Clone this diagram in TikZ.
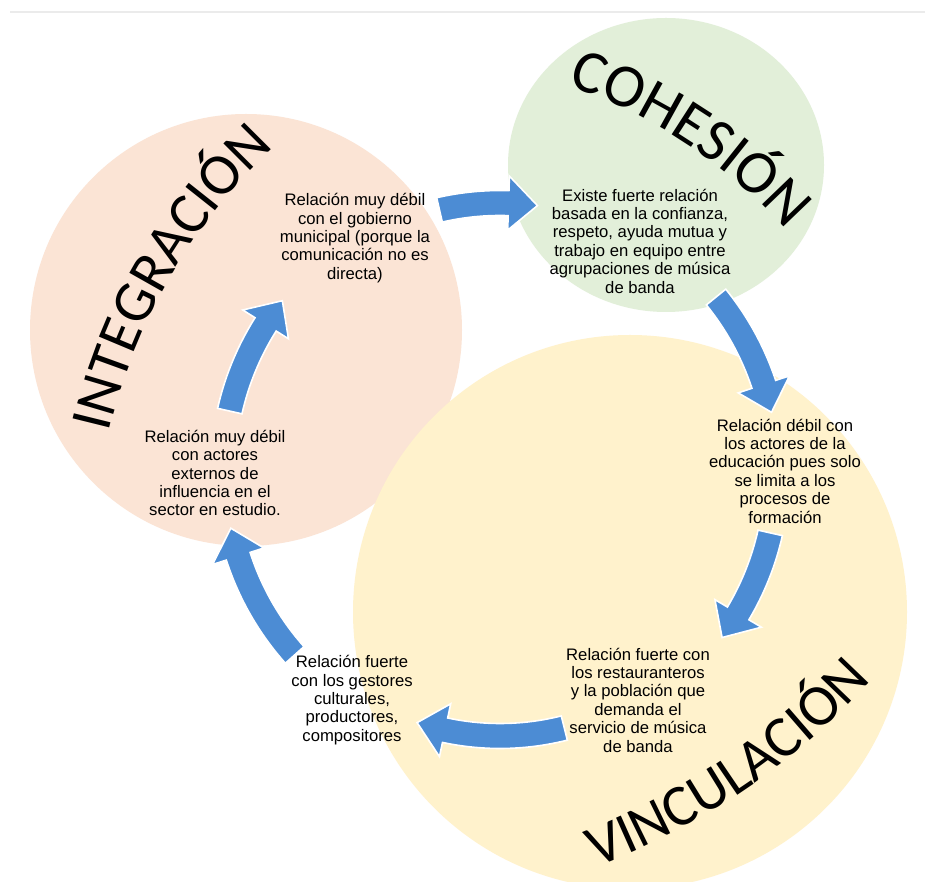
\documentclass[tikz,border=0pt]{standalone}
\usepackage{fontspec}
\setmainfont{Liberation Sans}
\newfontfamily\titlefam{Carlito}
\usetikzlibrary{calc,decorations.text}
\definecolor{pinkfill}{RGB}{251,228,213}
\definecolor{greenfill}{RGB}{226,239,217}
\definecolor{yellowfill}{RGB}{255,242,204}
\definecolor{arrowblue}{RGB}{76,140,212}
\newcommand{\titlefont}{\titlefam\fontsize{44}{44}\selectfont}
\newcommand{\titlefontb}{\titlefam\fontsize{46}{46}\selectfont}
\newcommand{\cyclearrow}[3]{%
  \pgfmathsetmacro{\ab}{#3+29/#1*57.2958}%
  \pgfmathsetmacro{\ro}{#1+12.5}\pgfmathsetmacro{\ri}{#1-12.5}%
  \pgfmathsetmacro{\ho}{#1+27}\pgfmathsetmacro{\hi}{#1-27}%
  \fill[arrowfill] ($(rc)+(#2:\ro)$) arc[start angle=#2, end angle=\ab, radius=\ro]
    -- ($(rc)+(\ab:\ho)$) -- ($(rc)+(#3:#1)$) -- ($(rc)+(\ab:\hi)$)
    -- ($(rc)+(\ab:\ri)$) arc[start angle=\ab, end angle=#2, radius=\ri] -- cycle;}
\tikzset{
  arrowfill/.style={fill=arrowblue, draw=white, line width=1.2},
  bodytext/.style={align=center, font=\fontsize{12.5}{13.8}\selectfont, text=black, inner sep=0pt},
  titletext/.style={decorate, decoration={text along path, text align=center, text={|\titlefont|#1}}},
  titletextb/.style={decorate, decoration={text along path, text align=center, text={|\titlefontb|#1}}},
}
\begin{document}
\begin{tikzpicture}[x=0.75pt, y=0.75pt]
\useasboundingbox (0,0) rectangle (925,882);
\fill[white] (0,0) rectangle (925,882);
\draw[black!8, line width=1.5] (10,870) -- (925,870);
% circles
\fill[pinkfill] (246,552) circle[radius=216];
\fill[greenfill] (666,717) ellipse[x radius=158, y radius=147];
\fill[yellowfill] (630,270) circle[radius=277];
% ring centre for arrows
\coordinate (rc) at (500,410);
\cyclearrow{269}{103}{82}
\cyclearrow{278}{39}{12.4}
\cyclearrow{277}{-12.7}{-36.7}
\cyclearrow{264}{-75.9}{-108.3}
\cyclearrow{275}{-138.3}{-168.2}
\cyclearrow{277}{167.3}{141.8}
% texts
\node[bodytext] (t1) at (355,644) {Relación muy débil\\con el gobierno\\municipal (porque la\\comunicación no es\\directa)};
\node[bodytext] (t2) at (640,641) {Existe fuerte relación\\basada en la confianza,\\respeto, ayuda mutua y\\trabajo en equipo entre\\agrupaciones de música\\de banda};
\node[bodytext] (t3) at (785,411) {Relación débil con\\los actores de la\\educación pues solo\\se limita a los\\procesos de\\formación};
\node[bodytext] (t4) at (638,182) {Relación fuerte con\\los restauranteros\\y la población que\\demanda el\\servicio de música\\de banda};
\node[bodytext] (t5) at (352,182) {Relación fuerte\\con los gestores\\culturales,\\productores,\\compositores};
\node[bodytext] (t6) at (215,409) {Relación muy débil\\con actores\\externos de\\influencia en el\\sector en estudio.};
% curved titles
\path[titletext=INTEGRACIÓN] ([shift={(172:571)}]665,319) arc[start angle=172, end angle=128, radius=571];
\path[titletextb=COHESIÓN] ([shift={(76:510)}]405,313) arc[start angle=76, end angle=37, radius=510];
\path[titletext=VINCULACIÓN] ([shift={(-74.8:719)}]341,687) arc[start angle=-74.8, end angle=-36.8, radius=719];
\end{tikzpicture}
\end{document}
